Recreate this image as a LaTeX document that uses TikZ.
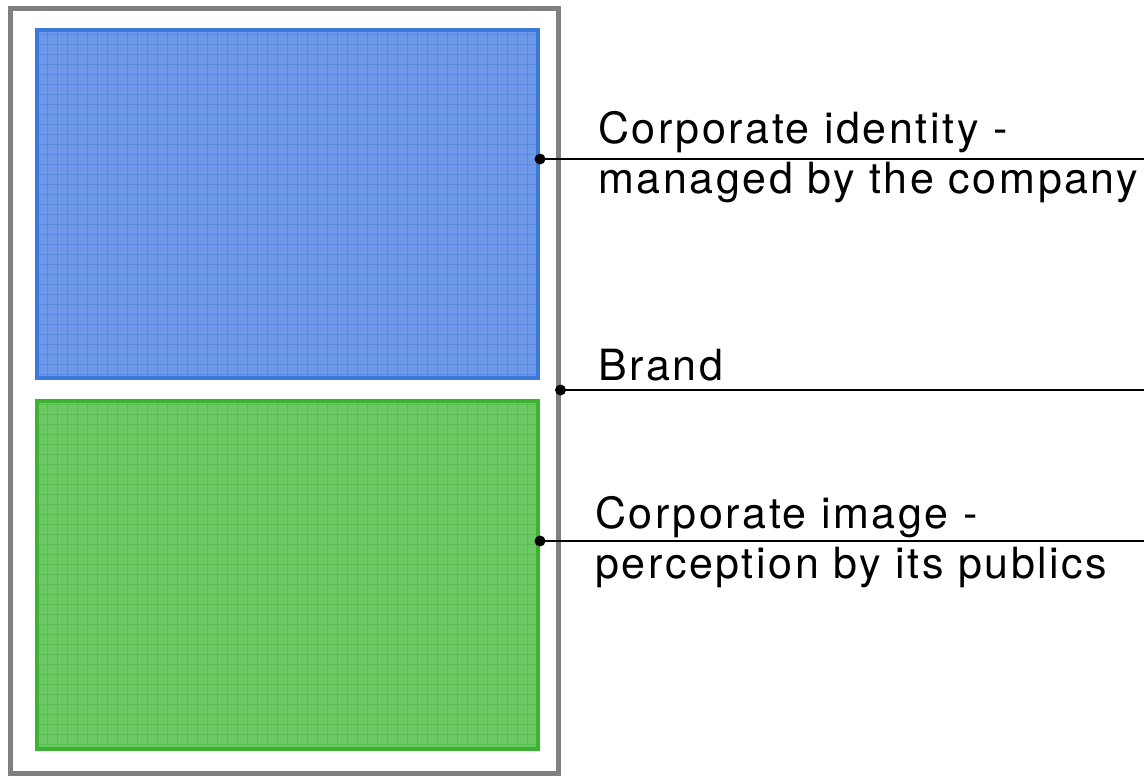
\documentclass[tikz,border=0pt]{standalone}
\usepackage{fontspec}
\setmainfont{TeX Gyre Heros}[LetterSpace=6]
\usepackage{tikz}
\usetikzlibrary{positioning,calc}
\definecolor{Frame}{HTML}{808080}
\definecolor{Blue}{HTML}{3C78DC}
\definecolor{SoftBlue}{HTML}{7098E8}
\definecolor{Green}{HTML}{3CB432}
\definecolor{SoftGreen}{HTML}{6CC864}

\begin{document}
\begin{tikzpicture}[x=0.5pt,y=-0.5pt,
    block/.style={rectangle,draw=#1,line width=2pt,fill=Soft#1,minimum width=250.5pt,minimum height=174pt,inner sep=0pt,
        path picture={\draw[#1!85!white,line width=0.5pt] (path picture bounding box.north west) grid[step=5pt] (path picture bounding box.south east);}},
    label/.style={align=left,inner sep=0pt,font=\fontsize{21.5}{25}\selectfont},
    dot/.style={circle,fill=black,inner sep=0pt,minimum size=5.5pt}
]
\useasboundingbox (0,0) rectangle (1144,776);
\node[rectangle,draw=Frame,line width=2.5pt,minimum width=274pt,minimum height=382.5pt] (brand) at (284,390.5) {};
\node[block=Blue] (identity) at (287.5,204) {};
\node[block=Green] (image) at (287.5,574.5) {};
% pointers out to the right edge
\coordinate (e1) at (1144,159);
\coordinate (e2) at (1144,390);
\coordinate (e3) at (1144,541);
\node[dot] (d1) at (identity.east |- e1) {};
\node[dot] (d2) at (brand.east |- e2) {};
\node[dot] (d3) at (image.east |- e3) {};
\draw[line width=1pt] (d1.center) -- (e1);
\draw[line width=1pt] (d2.center) -- (e2);
\draw[line width=1pt] (d3.center) -- (e3);
\node[label,anchor=west] (t1) at (598,157) {Corporate identity -\\managed by the company};
\node[label,anchor=base west] (t2) at (598,380) {Brand};
\node[label,anchor=west] (t3) at (595,542) {Corporate image -\\perception by its publics};
\end{tikzpicture}
\end{document}
